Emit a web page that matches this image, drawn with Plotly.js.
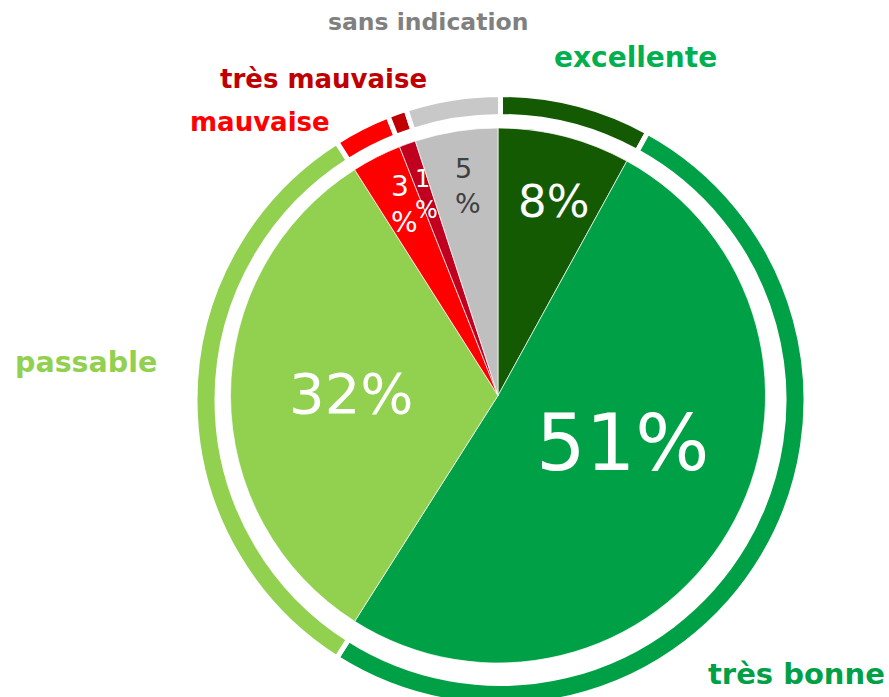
<!DOCTYPE html>
<html>
<head>
<meta charset="utf-8">
<script src="https://cdn.plot.ly/plotly-3.0.1.min.js"></script>
<style>
html,body{margin:0;padding:0;overflow:hidden;background:#fff;}
#chart{width:889px;height:710px;}
</style>
</head>
<body>
<div id="chart"></div>
<script>
// Data
const categories = ['excellente', 'très bonne', 'passable', 'mauvaise', 'très mauvaise', 'sans indication'];
const values = [8, 51, 32, 3, 1, 5];
const pieColors = ['#145A02', '#00A046', '#92D050', '#FF0000', '#C0001E', '#BFBFBF'];
const ringColors = ['#145A02', '#00A046', '#92D050', '#FF0000', '#C00000', '#C8C8C8'];
const labelColors = ['#00B050', '#00A046', '#92D050', '#FF0000', '#C00000', '#808080'];
const pctFontSizes = [45, 78, 56, 28, 24, 27];
const pctFontColors = ['#FFFFFF', '#FFFFFF', '#FFFFFF', '#FFFFFF', '#FFFFFF', '#404040'];
const labelFontSizes = [28, 29, 28.5, 26, 26, 23.5];
// label centres in pixels (styling only)
const labelPos = [[635, 57], [796, 674], [86, 362], [260, 122], [323, 79], [428, 22]];
const pctPos = [[553, 201], [622, 443], [351, 393], [404, 204], [426, 194], [468, 186]];

const W = 889, H = 710;
const pctText = values.map(v => v < 6 ? v + '<br>%' : v + '%');

const inner = {
  type: 'pie',
  labels: categories,
  values: values,
  textinfo: 'none',
  sort: false,
  direction: 'clockwise',
  rotation: 0,
  marker: {colors: pieColors, line: {color: '#FFFFFF', width: 0.7}},
  domain: {x: [230.5 / W, 765.5 / W], y: [47 / H, 582 / H]},
  hoverinfo: 'skip',
  showlegend: false
};

const ring = {
  type: 'pie',
  labels: categories,
  values: values,
  textinfo: 'none',
  hole: 0.928,
  sort: false,
  direction: 'clockwise',
  rotation: 0,
  marker: {colors: ringColors, line: {color: '#FFFFFF', width: 5}},
  domain: {x: [195 / W, 806 / W], y: [4.5 / H, 615.5 / H]},
  hoverinfo: 'skip',
  showlegend: false
};

const annotations = categories.map((c, i) => ({
  text: '<b>' + c + '</b>',
  xref: 'paper', yref: 'paper',
  x: labelPos[i][0] / W, y: 1 - labelPos[i][1] / H,
  xanchor: 'center', yanchor: 'middle',
  showarrow: false,
  font: {family: 'DejaVu Sans', size: labelFontSizes[i], color: labelColors[i]}
})).concat(values.map((v, i) => ({
  text: pctText[i],
  xref: 'paper', yref: 'paper',
  x: pctPos[i][0] / W, y: 1 - pctPos[i][1] / H,
  xanchor: 'center', yanchor: 'middle',
  align: 'left',
  showarrow: false,
  font: {family: 'DejaVu Sans', size: pctFontSizes[i], color: pctFontColors[i]}
})));

const layout = {
  width: W, height: H,
  margin: {l: 0, r: 0, t: 0, b: 0},
  paper_bgcolor: '#FFFFFF',
  plot_bgcolor: '#FFFFFF',
  showlegend: false,
  annotations: annotations
};

Plotly.newPlot('chart', [ring, inner], layout, {displayModeBar: false, staticPlot: true});
</script>
</body>
</html>
